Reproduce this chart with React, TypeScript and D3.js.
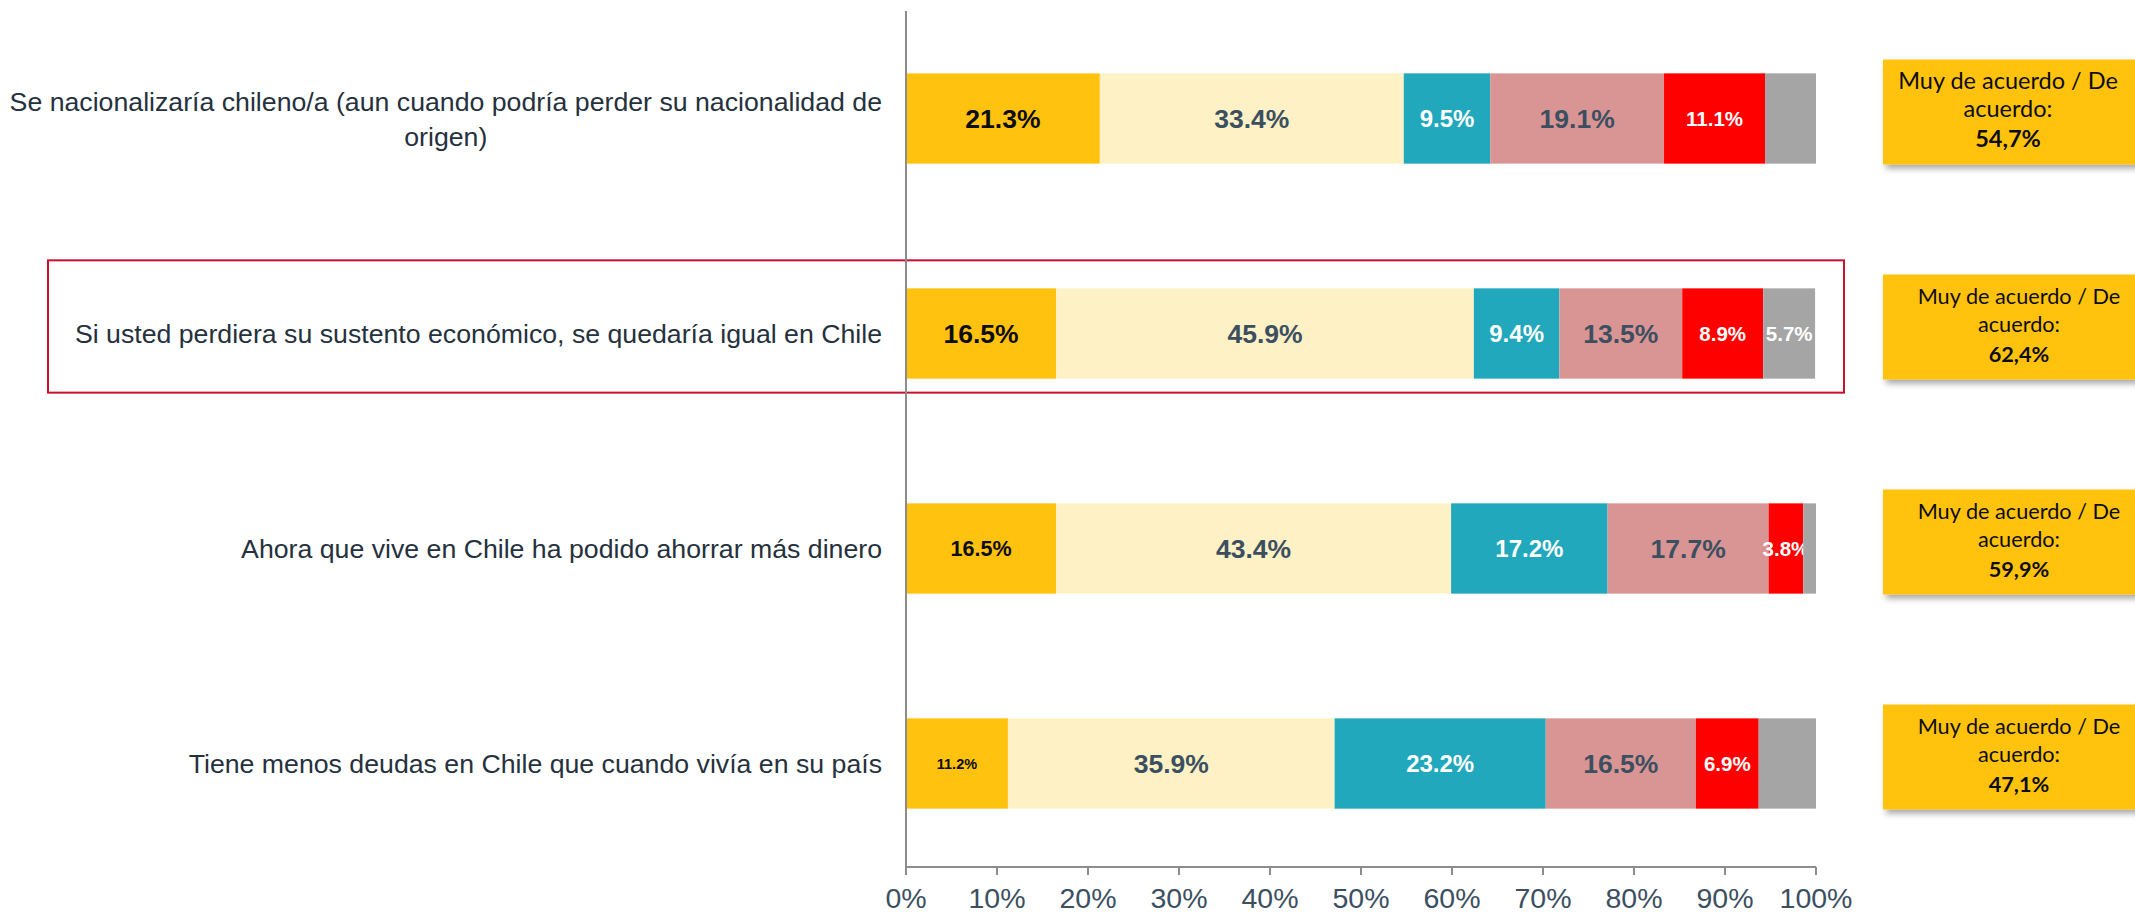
import { useLayoutEffect, useMemo, useRef, useState } from "react";
import * as d3 from "d3";

// Preguntas (filas del gráfico)
const categories = [
  "Se nacionalizaría chileno/a (aun cuando podría perder su nacionalidad de|origen)",
  "Si usted perdiera su sustento económico, se quedaría igual en Chile",
  "Ahora que vive en Chile ha podido ahorrar más dinero",
  "Tiene menos deudas en Chile que cuando vivía en su país",
];

// Porcentajes por categoría de respuesta
const muyDeAcuerdo = [21.3, 16.5, 16.5, 11.2];
const deAcuerdo = [33.4, 45.9, 43.4, 35.9];
const niAcuerdoNiDesacuerdo = [9.5, 9.4, 17.2, 23.2];
const enDesacuerdo = [19.1, 13.5, 17.7, 16.5];
const muyEnDesacuerdo = [11.1, 8.9, 3.8, 6.9];
const noSabe = [5.6, 5.7, 1.4, 6.3];
// solo la fila 2 muestra la etiqueta del gris
const noSabeLabelShown = [false, true, false, false];

const acuerdoTotals = ["54,7%", "62,4%", "59,9%", "47,1%"];
const xTicks = [0, 10, 20, 30, 40, 50, 60, 70, 80, 90, 100];

const seriesKeys = ["muy", "de", "ni", "des", "muyDes", "ns"];
const seriesColor: Record<string, string> = {
  muy: "#FFC20E",
  de: "#FEF1C5",
  ni: "#21A8BC",
  des: "#D99594",
  muyDes: "#FF0000",
  ns: "#A5A5A5",
};
const labelColor: Record<string, string> = {
  muy: "#0d0d0d",
  de: "#3B4F61",
  ni: "#ffffff",
  des: "#3B4F61",
  muyDes: "#ffffff",
  ns: "#ffffff",
};
const labelSize: Record<string, number> = {
  muy: 26,
  de: 26.5,
  ni: 24,
  des: 26.5,
  muyDes: 20.5,
  ns: 20.5,
};
// las etiquetas amarillas cambian de tamaño por fila
const goldSize = [26.5, 26.5, 21.5, 14.5];

const W = 2135;
const H = 915;
const FONT = "'Liberation Sans', Arial, sans-serif";
const SLATE = "#3B4F61";

export default function App() {
  const rows = useMemo(
    () =>
      categories.map((c, i) => ({
        name: c,
        muy: muyDeAcuerdo[i],
        de: deAcuerdo[i],
        ni: niAcuerdoNiDesacuerdo[i],
        des: enDesacuerdo[i],
        muyDes: muyEnDesacuerdo[i],
        ns: noSabe[i],
      })),
    []
  );

  const x = d3.scaleLinear().domain([0, 100]).range([906, 1816]);
  const y = d3
    .scaleBand<string>()
    .domain(categories)
    .range([11, 871])
    .paddingInner(0.58)
    .paddingOuter(0.29);

  const stacked = d3.stack<any>().keys(seriesKeys)(rows);

  // centrar la segunda línea de la primera pregunta bajo la primera línea
  const firstLine = useRef<SVGTextElement>(null);
  const [firstWidth, setFirstWidth] = useState(870);
  useLayoutEffect(() => {
    if (firstLine.current) setFirstWidth(firstLine.current.getComputedTextLength());
  }, []);

  const labelRight = 882;
  const labelFs = 26.7;
  const axisY = 867;

  return (
    <div style={{ position: "absolute", left: 0, top: 0 }}>
      <svg width={W} height={H} style={{ display: "block", background: "#fff" }}>
        <defs>
          <filter id="shadow" x="-10%" y="-10%" width="130%" height="140%">
            <feDropShadow dx="3" dy="4" stdDeviation="3" floodColor="#000" floodOpacity="0.35" />
          </filter>
        </defs>

        {/* recuadro rojo de la fila destacada */}
        <rect
          x={48}
          y={(y(categories[1]) ?? 0) - 28}
          width={1796}
          height={y.bandwidth() + 42}
          fill="none"
          stroke="#C8102E"
          strokeWidth={2}
        />

        {/* barras */}
        {stacked.map((s) => (
          <g key={s.key}>
            {s.map((d, i) => {
              const x0 = x(d[0]);
              const x1 = x(d[1]);
              const yy = y(categories[i]) ?? 0;
              const v = d[1] - d[0];
              const show = s.key !== "ns" || noSabeLabelShown[i];
              const fs = s.key === "muy" ? goldSize[i] : labelSize[s.key];
              return (
                <g key={i}>
                  <rect
                    x={x0}
                    y={yy}
                    width={x1 - x0}
                    height={y.bandwidth()}
                    fill={seriesColor[s.key]}
                  />
                  {show && (
                    <text
                      x={(x0 + x1) / 2}
                      y={yy + y.bandwidth() / 2}
                      dy="0.36em"
                      textAnchor="middle"
                      fontFamily={FONT}
                      fontWeight="bold"
                      fontSize={fs}
                      fill={labelColor[s.key]}
                    >
                      {v.toFixed(1)}%
                    </text>
                  )}
                </g>
              );
            })}
          </g>
        ))}

        {/* ejes */}
        <line x1={x(0)} x2={x(0)} y1={11} y2={axisY + 8} stroke="#8C8C8C" strokeWidth={2} />
        <line x1={x(0)} x2={x(100)} y1={axisY} y2={axisY} stroke="#8C8C8C" strokeWidth={2} />
        {xTicks.map((t) => (
          <g key={t}>
            <line x1={x(t)} x2={x(t)} y1={axisY} y2={axisY + 8} stroke="#8C8C8C" strokeWidth={2} />
            <text
              x={x(t)}
              y={908}
              textAnchor="middle"
              fontFamily={FONT}
              fontSize={28.5}
              fill={SLATE}
            >
              {t}%
            </text>
          </g>
        ))}

        {/* etiquetas de las preguntas */}
        {categories.map((c) => {
          const cy = (y(c) ?? 0) + y.bandwidth() / 2;
          const lines = c.split("|");
          if (lines.length === 1) {
            return (
              <text
                key={c}
                x={labelRight}
                y={cy}
                dy="0.36em"
                textAnchor="end"
                fontFamily={FONT}
                fontSize={labelFs}
                fill="#25313D"
              >
                {c}
              </text>
            );
          }
          return (
            <g key={c}>
              <text
                ref={firstLine}
                x={labelRight}
                y={cy - 17.5}
                dy="0.36em"
                textAnchor="end"
                fontFamily={FONT}
                fontSize={labelFs}
                fill="#25313D"
              >
                {lines[0]}
              </text>
              <text
                x={labelRight - firstWidth / 2}
                y={cy + 17.5}
                dy="0.36em"
                textAnchor="middle"
                fontFamily={FONT}
                fontSize={labelFs}
                fill="#25313D"
              >
                {lines[1]}
              </text>
            </g>
          );
        })}

        {/* recuadros de total acuerdo */}
        {acuerdoTotals.map((t, i) => {
          const cy = (y(categories[i]) ?? 0) + y.bandwidth() / 2;
          const top = cy - 59;
          const cx = i === 0 ? 2008 : 2019;
          const fs = i === 0 ? 23.5 : 21.7;
          return (
            <g key={i}>
              <rect
                x={1883}
                y={top}
                width={300}
                height={105}
                fill="#FFC20E"
                filter="url(#shadow)"
              />
              <text
                textAnchor="middle"
                fontFamily="Lato, 'Open Sans', sans-serif"
                fontSize={fs}
                fill="#0d0d0d"
              >
                <tspan x={cx} y={top + 29}>
                  Muy de acuerdo / De
                </tspan>
                <tspan x={cx} y={top + 57}>
                  acuerdo:
                </tspan>
                <tspan x={cx} y={top + 87} fontWeight="bold">
                  {t}
                </tspan>
              </text>
            </g>
          );
        })}
      </svg>
    </div>
  );
}
